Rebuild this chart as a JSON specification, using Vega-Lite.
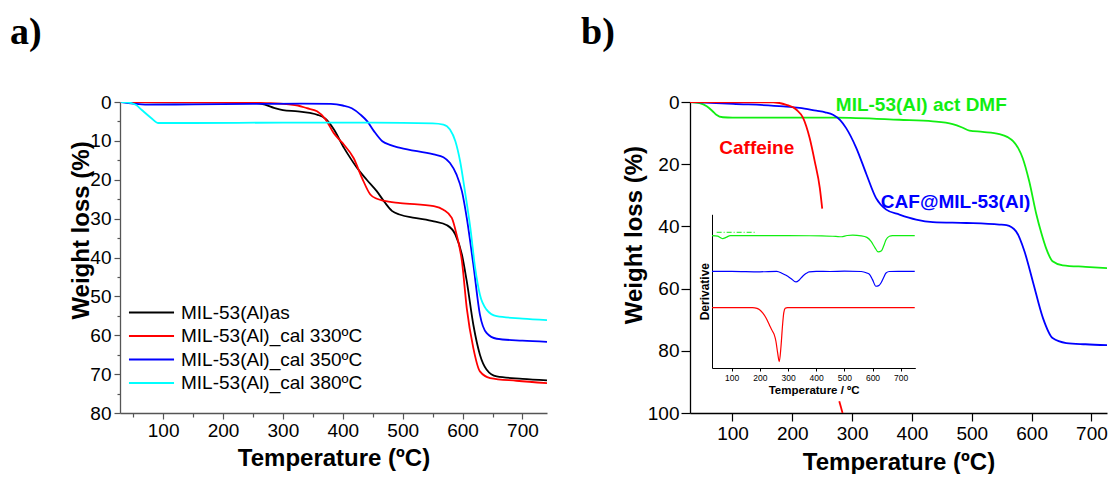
{
  "$schema": "https://vega.github.io/schema/vega-lite/v6.json",
  "background": "white",
  "padding": {"left": 10, "top": 14, "right": 0, "bottom": 0},
  "spacing": 34,
  "resolve": {"scale": {"color": "independent"}},
  "config": {
    "view": {"stroke": null},
    "font": "Liberation Sans",
    "axis": {"grid": false, "domainColor": "black", "tickColor": "black", "labelColor": "black", "titleColor": "black", "labelFont": "Liberation Sans", "titleFont": "Liberation Sans", "labelFlush": false, "labelOverlap": false, "domainWidth": 1.3, "tickWidth": 1.2},
    "legend": {"labelFont": "Liberation Sans"}
  },
  "datasets": {
    "a": [
      {"s": "MIL-53(Al)as", "T": 30, "W": 0}, {"s": "MIL-53(Al)as", "T": 100, "W": 0.1}, {"s": "MIL-53(Al)as", "T": 200, "W": 0.1}, {"s": "MIL-53(Al)as", "T": 250, "W": 0.2}, {"s": "MIL-53(Al)as", "T": 270, "W": 0.7}, {"s": "MIL-53(Al)as", "T": 285, "W": 1.5}, {"s": "MIL-53(Al)as", "T": 300, "W": 2.1}, {"s": "MIL-53(Al)as", "T": 325, "W": 2.4}, {"s": "MIL-53(Al)as", "T": 345, "W": 2.8}, {"s": "MIL-53(Al)as", "T": 358, "W": 3.3}, {"s": "MIL-53(Al)as", "T": 371, "W": 4.3}, {"s": "MIL-53(Al)as", "T": 385, "W": 7}, {"s": "MIL-53(Al)as", "T": 402, "W": 11.8}, {"s": "MIL-53(Al)as", "T": 413, "W": 14.5}, {"s": "MIL-53(Al)as", "T": 424, "W": 17}, {"s": "MIL-53(Al)as", "T": 440, "W": 20}, {"s": "MIL-53(Al)as", "T": 457, "W": 23}, {"s": "MIL-53(Al)as", "T": 470, "W": 25.8}, {"s": "MIL-53(Al)as", "T": 482, "W": 28}, {"s": "MIL-53(Al)as", "T": 496, "W": 29}, {"s": "MIL-53(Al)as", "T": 520, "W": 29.8}, {"s": "MIL-53(Al)as", "T": 552, "W": 30.7}, {"s": "MIL-53(Al)as", "T": 574, "W": 31.7}, {"s": "MIL-53(Al)as", "T": 588, "W": 34.1}, {"s": "MIL-53(Al)as", "T": 599, "W": 39.3}, {"s": "MIL-53(Al)as", "T": 607, "W": 46.1}, {"s": "MIL-53(Al)as", "T": 618, "W": 57.3}, {"s": "MIL-53(Al)as", "T": 629, "W": 65}, {"s": "MIL-53(Al)as", "T": 640, "W": 68.8}, {"s": "MIL-53(Al)as", "T": 657, "W": 70.6}, {"s": "MIL-53(Al)as", "T": 700, "W": 71.2}, {"s": "MIL-53(Al)as", "T": 741, "W": 71.6},
      {"s": "MIL-53(Al)_cal 330ºC", "T": 30, "W": 0}, {"s": "MIL-53(Al)_cal 330ºC", "T": 100, "W": 0}, {"s": "MIL-53(Al)_cal 330ºC", "T": 200, "W": 0.1}, {"s": "MIL-53(Al)_cal 330ºC", "T": 280, "W": 0.3}, {"s": "MIL-53(Al)_cal 330ºC", "T": 310, "W": 0.6}, {"s": "MIL-53(Al)_cal 330ºC", "T": 325, "W": 0.9}, {"s": "MIL-53(Al)_cal 330ºC", "T": 340, "W": 1.6}, {"s": "MIL-53(Al)_cal 330ºC", "T": 357, "W": 2.4}, {"s": "MIL-53(Al)_cal 330ºC", "T": 371, "W": 4.4}, {"s": "MIL-53(Al)_cal 330ºC", "T": 385, "W": 8}, {"s": "MIL-53(Al)_cal 330ºC", "T": 395, "W": 9.8}, {"s": "MIL-53(Al)_cal 330ºC", "T": 402, "W": 11}, {"s": "MIL-53(Al)_cal 330ºC", "T": 418, "W": 14.4}, {"s": "MIL-53(Al)_cal 330ºC", "T": 432, "W": 19.5}, {"s": "MIL-53(Al)_cal 330ºC", "T": 446, "W": 23.8}, {"s": "MIL-53(Al)_cal 330ºC", "T": 457, "W": 24.9}, {"s": "MIL-53(Al)_cal 330ºC", "T": 468, "W": 25.4}, {"s": "MIL-53(Al)_cal 330ºC", "T": 496, "W": 26}, {"s": "MIL-53(Al)_cal 330ºC", "T": 552, "W": 26.8}, {"s": "MIL-53(Al)_cal 330ºC", "T": 568, "W": 27.7}, {"s": "MIL-53(Al)_cal 330ºC", "T": 582, "W": 29.8}, {"s": "MIL-53(Al)_cal 330ºC", "T": 590, "W": 34.1}, {"s": "MIL-53(Al)_cal 330ºC", "T": 599, "W": 41}, {"s": "MIL-53(Al)_cal 330ºC", "T": 607, "W": 53}, {"s": "MIL-53(Al)_cal 330ºC", "T": 618, "W": 63.3}, {"s": "MIL-53(Al)_cal 330ºC", "T": 629, "W": 69.3}, {"s": "MIL-53(Al)_cal 330ºC", "T": 646, "W": 71}, {"s": "MIL-53(Al)_cal 330ºC", "T": 690, "W": 71.7}, {"s": "MIL-53(Al)_cal 330ºC", "T": 741, "W": 72.3},
      {"s": "MIL-53(Al)_cal 350ºC", "T": 30, "W": 0}, {"s": "MIL-53(Al)_cal 350ºC", "T": 50, "W": 0.4}, {"s": "MIL-53(Al)_cal 350ºC", "T": 70, "W": 0.7}, {"s": "MIL-53(Al)_cal 350ºC", "T": 150, "W": 0.6}, {"s": "MIL-53(Al)_cal 350ºC", "T": 250, "W": 0.5}, {"s": "MIL-53(Al)_cal 350ºC", "T": 330, "W": 0.4}, {"s": "MIL-53(Al)_cal 350ºC", "T": 380, "W": 0.5}, {"s": "MIL-53(Al)_cal 350ºC", "T": 400, "W": 0.9}, {"s": "MIL-53(Al)_cal 350ºC", "T": 415, "W": 1.6}, {"s": "MIL-53(Al)_cal 350ºC", "T": 430, "W": 3.3}, {"s": "MIL-53(Al)_cal 350ºC", "T": 441, "W": 5}, {"s": "MIL-53(Al)_cal 350ºC", "T": 452, "W": 7.5}, {"s": "MIL-53(Al)_cal 350ºC", "T": 466, "W": 10.1}, {"s": "MIL-53(Al)_cal 350ºC", "T": 480, "W": 11.1}, {"s": "MIL-53(Al)_cal 350ºC", "T": 496, "W": 11.8}, {"s": "MIL-53(Al)_cal 350ºC", "T": 552, "W": 13.5}, {"s": "MIL-53(Al)_cal 350ºC", "T": 568, "W": 14.2}, {"s": "MIL-53(Al)_cal 350ºC", "T": 579, "W": 15.7}, {"s": "MIL-53(Al)_cal 350ºC", "T": 590, "W": 18.7}, {"s": "MIL-53(Al)_cal 350ºC", "T": 599, "W": 23}, {"s": "MIL-53(Al)_cal 350ºC", "T": 607, "W": 29.8}, {"s": "MIL-53(Al)_cal 350ºC", "T": 618, "W": 41.8}, {"s": "MIL-53(Al)_cal 350ºC", "T": 629, "W": 54.7}, {"s": "MIL-53(Al)_cal 350ºC", "T": 640, "W": 59.4}, {"s": "MIL-53(Al)_cal 350ºC", "T": 657, "W": 60.9}, {"s": "MIL-53(Al)_cal 350ºC", "T": 700, "W": 61.4}, {"s": "MIL-53(Al)_cal 350ºC", "T": 741, "W": 61.7},
      {"s": "MIL-53(Al)_cal 380ºC", "T": 30, "W": 0}, {"s": "MIL-53(Al)_cal 380ºC", "T": 45, "W": 0.2}, {"s": "MIL-53(Al)_cal 380ºC", "T": 55, "W": 0.8}, {"s": "MIL-53(Al)_cal 380ºC", "T": 64, "W": 2}, {"s": "MIL-53(Al)_cal 380ºC", "T": 80, "W": 4.1}, {"s": "MIL-53(Al)_cal 380ºC", "T": 92, "W": 5.4}, {"s": "MIL-53(Al)_cal 380ºC", "T": 150, "W": 5.4}, {"s": "MIL-53(Al)_cal 380ºC", "T": 300, "W": 5.3}, {"s": "MIL-53(Al)_cal 380ºC", "T": 450, "W": 5.3}, {"s": "MIL-53(Al)_cal 380ºC", "T": 550, "W": 5.5}, {"s": "MIL-53(Al)_cal 380ºC", "T": 568, "W": 5.8}, {"s": "MIL-53(Al)_cal 380ºC", "T": 579, "W": 7.1}, {"s": "MIL-53(Al)_cal 380ºC", "T": 588, "W": 10.1}, {"s": "MIL-53(Al)_cal 380ºC", "T": 596, "W": 15.3}, {"s": "MIL-53(Al)_cal 380ºC", "T": 604, "W": 23}, {"s": "MIL-53(Al)_cal 380ºC", "T": 613, "W": 32.4}, {"s": "MIL-53(Al)_cal 380ºC", "T": 621, "W": 42.7}, {"s": "MIL-53(Al)_cal 380ºC", "T": 629, "W": 49.6}, {"s": "MIL-53(Al)_cal 380ºC", "T": 640, "W": 53.4}, {"s": "MIL-53(Al)_cal 380ºC", "T": 657, "W": 55.1}, {"s": "MIL-53(Al)_cal 380ºC", "T": 700, "W": 55.7}, {"s": "MIL-53(Al)_cal 380ºC", "T": 741, "W": 56.1}
    ],
    "b": [
      {"s": "MIL-53(Al) act DMF", "g": 1, "T": 29, "W": 0}, {"s": "MIL-53(Al) act DMF", "g": 1, "T": 45, "W": 0.4}, {"s": "MIL-53(Al) act DMF", "g": 1, "T": 57, "W": 1.4}, {"s": "MIL-53(Al) act DMF", "g": 1, "T": 66, "W": 2.8}, {"s": "MIL-53(Al) act DMF", "g": 1, "T": 73, "W": 4.1}, {"s": "MIL-53(Al) act DMF", "g": 1, "T": 84, "W": 4.9}, {"s": "MIL-53(Al) act DMF", "g": 1, "T": 100, "W": 5}, {"s": "MIL-53(Al) act DMF", "g": 1, "T": 200, "W": 5}, {"s": "MIL-53(Al) act DMF", "g": 1, "T": 272, "W": 5}, {"s": "MIL-53(Al) act DMF", "g": 1, "T": 379, "W": 5.7}, {"s": "MIL-53(Al) act DMF", "g": 1, "T": 435, "W": 6.2}, {"s": "MIL-53(Al) act DMF", "g": 1, "T": 468, "W": 7.1}, {"s": "MIL-53(Al) act DMF", "g": 1, "T": 484, "W": 8.2}, {"s": "MIL-53(Al) act DMF", "g": 1, "T": 496, "W": 9.2}, {"s": "MIL-53(Al) act DMF", "g": 1, "T": 518, "W": 9.6}, {"s": "MIL-53(Al) act DMF", "g": 1, "T": 546, "W": 10.3}, {"s": "MIL-53(Al) act DMF", "g": 1, "T": 560, "W": 11.3}, {"s": "MIL-53(Al) act DMF", "g": 1, "T": 569, "W": 12.6}, {"s": "MIL-53(Al) act DMF", "g": 1, "T": 578, "W": 15}, {"s": "MIL-53(Al) act DMF", "g": 1, "T": 585, "W": 18}, {"s": "MIL-53(Al) act DMF", "g": 1, "T": 596, "W": 25.5}, {"s": "MIL-53(Al) act DMF", "g": 1, "T": 608, "W": 36.2}, {"s": "MIL-53(Al) act DMF", "g": 1, "T": 616, "W": 42}, {"s": "MIL-53(Al) act DMF", "g": 1, "T": 624, "W": 46.9}, {"s": "MIL-53(Al) act DMF", "g": 1, "T": 635, "W": 51.2}, {"s": "MIL-53(Al) act DMF", "g": 1, "T": 652, "W": 52.5}, {"s": "MIL-53(Al) act DMF", "g": 1, "T": 690, "W": 53}, {"s": "MIL-53(Al) act DMF", "g": 1, "T": 726, "W": 53.4},
      {"s": "CAF@MIL-53(Al)", "g": 2, "T": 29, "W": 0}, {"s": "CAF@MIL-53(Al)", "g": 2, "T": 101, "W": 0.6}, {"s": "CAF@MIL-53(Al)", "g": 2, "T": 185, "W": 1.4}, {"s": "CAF@MIL-53(Al)", "g": 2, "T": 212, "W": 1.9}, {"s": "CAF@MIL-53(Al)", "g": 2, "T": 240, "W": 2.8}, {"s": "CAF@MIL-53(Al)", "g": 2, "T": 255, "W": 3.3}, {"s": "CAF@MIL-53(Al)", "g": 2, "T": 268, "W": 4.1}, {"s": "CAF@MIL-53(Al)", "g": 2, "T": 280, "W": 5.8}, {"s": "CAF@MIL-53(Al)", "g": 2, "T": 290, "W": 8.4}, {"s": "CAF@MIL-53(Al)", "g": 2, "T": 307, "W": 14.8}, {"s": "CAF@MIL-53(Al)", "g": 2, "T": 324, "W": 23.3}, {"s": "CAF@MIL-53(Al)", "g": 2, "T": 340, "W": 30.9}, {"s": "CAF@MIL-53(Al)", "g": 2, "T": 357, "W": 34.6}, {"s": "CAF@MIL-53(Al)", "g": 2, "T": 379, "W": 36.2}, {"s": "CAF@MIL-53(Al)", "g": 2, "T": 407, "W": 37.8}, {"s": "CAF@MIL-53(Al)", "g": 2, "T": 435, "W": 38.6}, {"s": "CAF@MIL-53(Al)", "g": 2, "T": 491, "W": 38.9}, {"s": "CAF@MIL-53(Al)", "g": 2, "T": 546, "W": 39.4}, {"s": "CAF@MIL-53(Al)", "g": 2, "T": 558, "W": 39.6}, {"s": "CAF@MIL-53(Al)", "g": 2, "T": 574, "W": 41.6}, {"s": "CAF@MIL-53(Al)", "g": 2, "T": 588, "W": 48}, {"s": "CAF@MIL-53(Al)", "g": 2, "T": 602, "W": 57.7}, {"s": "CAF@MIL-53(Al)", "g": 2, "T": 619, "W": 69.5}, {"s": "CAF@MIL-53(Al)", "g": 2, "T": 635, "W": 75.9}, {"s": "CAF@MIL-53(Al)", "g": 2, "T": 658, "W": 77.5}, {"s": "CAF@MIL-53(Al)", "g": 2, "T": 690, "W": 77.9}, {"s": "CAF@MIL-53(Al)", "g": 2, "T": 726, "W": 78.2},
      {"s": "Caffeine", "g": 3, "T": 29, "W": 0}, {"s": "Caffeine", "g": 3, "T": 168, "W": 0.1}, {"s": "Caffeine", "g": 3, "T": 190, "W": 0.9}, {"s": "Caffeine", "g": 3, "T": 207, "W": 2.5}, {"s": "Caffeine", "g": 3, "T": 218, "W": 5.1}, {"s": "Caffeine", "g": 3, "T": 229, "W": 11.6}, {"s": "Caffeine", "g": 3, "T": 237.5, "W": 19.1}, {"s": "Caffeine", "g": 3, "T": 246, "W": 27.7}, {"s": "Caffeine", "g": 3, "T": 250, "W": 34.3},
      {"s": "Caffeine", "g": 4, "T": 278.5, "W": 96.2}, {"s": "Caffeine", "g": 4, "T": 284, "W": 100}
    ],
    "inset": [
      {"s": "MIL-53(Al) act DMF", "T": 30, "D": 86.1}, {"s": "MIL-53(Al) act DMF", "T": 50, "D": 85.8}, {"s": "MIL-53(Al) act DMF", "T": 60, "D": 84.8}, {"s": "MIL-53(Al) act DMF", "T": 68, "D": 84.2}, {"s": "MIL-53(Al) act DMF", "T": 80, "D": 85}, {"s": "MIL-53(Al) act DMF", "T": 95, "D": 86.1}, {"s": "MIL-53(Al) act DMF", "T": 200, "D": 86.1}, {"s": "MIL-53(Al) act DMF", "T": 300, "D": 86.1}, {"s": "MIL-53(Al) act DMF", "T": 420, "D": 86}, {"s": "MIL-53(Al) act DMF", "T": 470, "D": 85.6}, {"s": "MIL-53(Al) act DMF", "T": 490, "D": 85.4}, {"s": "MIL-53(Al) act DMF", "T": 510, "D": 86.2}, {"s": "MIL-53(Al) act DMF", "T": 530, "D": 86.4}, {"s": "MIL-53(Al) act DMF", "T": 560, "D": 86}, {"s": "MIL-53(Al) act DMF", "T": 580, "D": 85}, {"s": "MIL-53(Al) act DMF", "T": 595, "D": 82.4}, {"s": "MIL-53(Al) act DMF", "T": 608, "D": 78.5}, {"s": "MIL-53(Al) act DMF", "T": 620, "D": 75.5}, {"s": "MIL-53(Al) act DMF", "T": 632, "D": 76.3}, {"s": "MIL-53(Al) act DMF", "T": 640, "D": 79.5}, {"s": "MIL-53(Al) act DMF", "T": 648, "D": 83.5}, {"s": "MIL-53(Al) act DMF", "T": 660, "D": 85.7}, {"s": "MIL-53(Al) act DMF", "T": 671, "D": 86.1}, {"s": "MIL-53(Al) act DMF", "T": 750, "D": 86.1},
      {"s": "CAF@MIL-53(Al)", "T": 30, "D": 62.9}, {"s": "CAF@MIL-53(Al)", "T": 100, "D": 62.9}, {"s": "CAF@MIL-53(Al)", "T": 200, "D": 62.6}, {"s": "CAF@MIL-53(Al)", "T": 260, "D": 62.9}, {"s": "CAF@MIL-53(Al)", "T": 280, "D": 61.5}, {"s": "CAF@MIL-53(Al)", "T": 293, "D": 60.3}, {"s": "CAF@MIL-53(Al)", "T": 310, "D": 58.3}, {"s": "CAF@MIL-53(Al)", "T": 328, "D": 56}, {"s": "CAF@MIL-53(Al)", "T": 340, "D": 57.3}, {"s": "CAF@MIL-53(Al)", "T": 352, "D": 59.7}, {"s": "CAF@MIL-53(Al)", "T": 365, "D": 61.6}, {"s": "CAF@MIL-53(Al)", "T": 375, "D": 62.5}, {"s": "CAF@MIL-53(Al)", "T": 400, "D": 62.9}, {"s": "CAF@MIL-53(Al)", "T": 450, "D": 62.8}, {"s": "CAF@MIL-53(Al)", "T": 500, "D": 63}, {"s": "CAF@MIL-53(Al)", "T": 560, "D": 62.8}, {"s": "CAF@MIL-53(Al)", "T": 580, "D": 61.8}, {"s": "CAF@MIL-53(Al)", "T": 590, "D": 60.8}, {"s": "CAF@MIL-53(Al)", "T": 600, "D": 57.5}, {"s": "CAF@MIL-53(Al)", "T": 612, "D": 53.2}, {"s": "CAF@MIL-53(Al)", "T": 622, "D": 53.6}, {"s": "CAF@MIL-53(Al)", "T": 630, "D": 55.3}, {"s": "CAF@MIL-53(Al)", "T": 640, "D": 59}, {"s": "CAF@MIL-53(Al)", "T": 648, "D": 61.8}, {"s": "CAF@MIL-53(Al)", "T": 660, "D": 62.8}, {"s": "CAF@MIL-53(Al)", "T": 750, "D": 62.9},
      {"s": "Caffeine", "T": 30, "D": 39.3}, {"s": "Caffeine", "T": 174, "D": 39.3}, {"s": "Caffeine", "T": 190, "D": 38.8}, {"s": "Caffeine", "T": 198, "D": 38}, {"s": "Caffeine", "T": 210, "D": 35.8}, {"s": "Caffeine", "T": 222, "D": 32.5}, {"s": "Caffeine", "T": 235, "D": 27.5}, {"s": "Caffeine", "T": 245, "D": 23.9}, {"s": "Caffeine", "T": 251, "D": 21.7}, {"s": "Caffeine", "T": 257, "D": 17.4}, {"s": "Caffeine", "T": 263, "D": 10}, {"s": "Caffeine", "T": 269, "D": 4.2}, {"s": "Caffeine", "T": 275, "D": 14}, {"s": "Caffeine", "T": 280.6, "D": 28}, {"s": "Caffeine", "T": 285, "D": 36}, {"s": "Caffeine", "T": 290, "D": 38.8}, {"s": "Caffeine", "T": 298, "D": 39.3}, {"s": "Caffeine", "T": 750, "D": 39.3}
    ],
    "dash": [
      {"s": "MIL-53(Al) act DMF", "T": 46.5, "D": 88.3}, {"s": "MIL-53(Al) act DMF", "T": 186, "D": 88.3}
    ]
  },
  "hconcat": [
    {
      "width": 427,
      "height": 311,
      "title": {"text": "a)", "anchor": "start", "frame": "group", "dx": -110, "font": "Liberation Serif", "fontSize": 38, "fontWeight": "bold", "offset": 11, "baseline": "alphabetic", "color": "black"},
      "data": {"name": "a"},
      "mark": {"type": "line", "strokeWidth": 1.8, "clip": true, "interpolate": "monotone"},
      "encoding": {
        "x": {"field": "T", "type": "quantitative", "scale": {"domain": [28, 741], "nice": false, "zero": false},
          "axis": {"title": "Temperature (ºC)", "values": [50, 100, 150, 200, 250, 300, 350, 400, 450, 500, 550, 600, 650, 700], "labelExpr": "datum.value % 100 === 0 ? '' + datum.value : ''", "tickSize": {"condition": {"test": "datum.value % 100 === 0", "value": 6}, "value": 4}, "labelFontSize": 19, "labelPadding": 2, "titleFontSize": 24, "titleFontWeight": "bold", "titlePadding": 6, "domainColor": "#555555", "tickColor": "#555555"}},
        "y": {"field": "W", "type": "quantitative", "scale": {"domain": [0, 80], "reverse": true, "nice": false, "zero": false},
          "axis": {"title": "Weight loss (%)", "values": [0, 5, 10, 15, 20, 25, 30, 35, 40, 45, 50, 55, 60, 65, 70, 75, 80], "labelExpr": "datum.value % 10 === 0 ? '' + datum.value : ''", "tickSize": {"condition": {"test": "datum.value % 10 === 0", "value": 6}, "value": 3}, "labelFontSize": 19, "labelPadding": 3, "titleFontSize": 24, "titleFontWeight": "bold", "titleX": -32, "titleY": 128, "titleBaseline": "alphabetic", "domainColor": "#555555", "tickColor": "#555555"}},
        "color": {"field": "s", "type": "nominal",
          "scale": {"domain": ["MIL-53(Al)as", "MIL-53(Al)_cal 330ºC", "MIL-53(Al)_cal 350ºC", "MIL-53(Al)_cal 380ºC"], "range": ["#000000", "#ff0000", "#0000ff", "#00ffff"]},
          "legend": {"title": null, "orient": "none", "legendX": 22, "legendY": 201, "padding": 0, "labelFontSize": 19, "labelColor": "black", "symbolType": "M-4,0H4", "symbolSize": 127, "symbolStrokeWidth": 2, "rowPadding": 3.5, "labelOffset": 20, "labelLimit": 400}}
      }
    },
    {
      "width": 417,
      "height": 311,
      "title": {"text": "b)", "anchor": "start", "frame": "group", "dx": -109, "font": "Liberation Serif", "fontSize": 38, "fontWeight": "bold", "offset": 11, "baseline": "alphabetic", "color": "black"},
      "layer": [
        {
          "layer": [
            {
              "data": {"name": "b"},
              "mark": {"type": "line", "strokeWidth": 1.8, "clip": true, "interpolate": "monotone"},
              "encoding": {
                "x": {"field": "T", "type": "quantitative", "scale": {"domain": [29, 726], "nice": false, "zero": false},
                  "axis": {"title": "Temperature (ºC)", "values": [100, 200, 300, 400, 500, 600, 700], "format": "d", "tickSize": 8, "labelFontSize": 19, "labelPadding": 3, "titleFontSize": 24, "titleFontWeight": "bold", "titlePadding": 7}},
                "y": {"field": "W", "type": "quantitative", "scale": {"domain": [0, 100], "reverse": true, "nice": false, "zero": false},
                  "axis": {"title": "Weight loss (%)", "values": [0, 10, 20, 30, 40, 50, 60, 70, 80, 90, 100], "labelExpr": "datum.value % 20 === 0 ? '' + datum.value : ''", "tickSize": {"condition": {"test": "datum.value % 20 === 0", "value": 9}, "value": 5}, "labelFontSize": 19, "labelPadding": 2, "titleFontSize": 24, "titleFontWeight": "bold", "titleX": -48.5, "titleY": 132.6, "titleBaseline": "alphabetic"}},
                "color": {"field": "s", "type": "nominal", "scale": {"domain": ["Caffeine", "CAF@MIL-53(Al)", "MIL-53(Al) act DMF"], "range": ["#ff0000", "#0000ff", "#11ee11"]}, "legend": null},
                "detail": {"field": "g", "type": "nominal"}
              }
            },
            {
              "data": {"values": [{}]},
              "mark": {"type": "text", "text": "MIL-53(Al) act DMF", "color": "#11ee11", "fontSize": 19, "fontWeight": "bold", "align": "left", "baseline": "middle", "font": "Liberation Sans"},
              "encoding": {"x": {"datum": 272.7, "type": "quantitative"}, "y": {"datum": 1.1, "type": "quantitative"}}
            },
            {
              "data": {"values": [{}]},
              "mark": {"type": "text", "text": "Caffeine", "color": "#ff0000", "fontSize": 19, "fontWeight": "bold", "align": "left", "baseline": "middle", "font": "Liberation Sans"},
              "encoding": {"x": {"datum": 78, "type": "quantitative"}, "y": {"datum": 14.8, "type": "quantitative"}}
            },
            {
              "data": {"values": [{}]},
              "mark": {"type": "text", "text": "CAF@MIL-53(Al)", "color": "#0000ff", "fontSize": 19, "fontWeight": "bold", "align": "left", "baseline": "middle", "font": "Liberation Sans"},
              "encoding": {"x": {"datum": 348, "type": "quantitative"}, "y": {"datum": 32.2, "type": "quantitative"}}
            }
          ]
        },
        {
          "layer": [
            {
              "data": {"name": "inset"},
              "mark": {"type": "line", "strokeWidth": 1.2, "interpolate": "monotone"},
              "encoding": {
                "x": {"field": "T", "type": "quantitative", "scale": {"domain": [30, 752], "range": [22, 225.3], "nice": false, "zero": false},
                  "axis": {"orient": "bottom", "offset": -45, "title": "Temperature / ºC", "values": [100, 200, 300, 400, 500, 600, 700], "format": "d", "tickSize": 3, "labelFontSize": 8.5, "labelPadding": 2, "titleFontSize": 11.5, "titleFontWeight": "bold", "titlePadding": 3, "domainWidth": 1, "tickWidth": 1}},
                "y": {"field": "D", "type": "quantitative", "scale": {"domain": [0, 100], "range": [266, 112.3], "nice": false, "zero": false},
                  "axis": {"orient": "left", "offset": -22, "title": "Derivative", "ticks": false, "labels": false, "titleFontSize": 12, "titleFontWeight": "bold", "titlePadding": 1, "domainWidth": 1}},
                "color": {"field": "s", "type": "nominal", "legend": null}
              }
            },
            {
              "data": {"name": "dash"},
              "mark": {"type": "line", "strokeWidth": 1, "strokeDash": [5, 2, 1, 2]},
              "encoding": {
                "x": {"field": "T", "type": "quantitative"},
                "y": {"field": "D", "type": "quantitative"},
                "color": {"field": "s", "type": "nominal", "legend": null}
              }
            }
          ]
        }
      ],
      "resolve": {"scale": {"x": "independent", "y": "independent"}, "axis": {"x": "independent", "y": "independent"}}
    }
  ]
}
